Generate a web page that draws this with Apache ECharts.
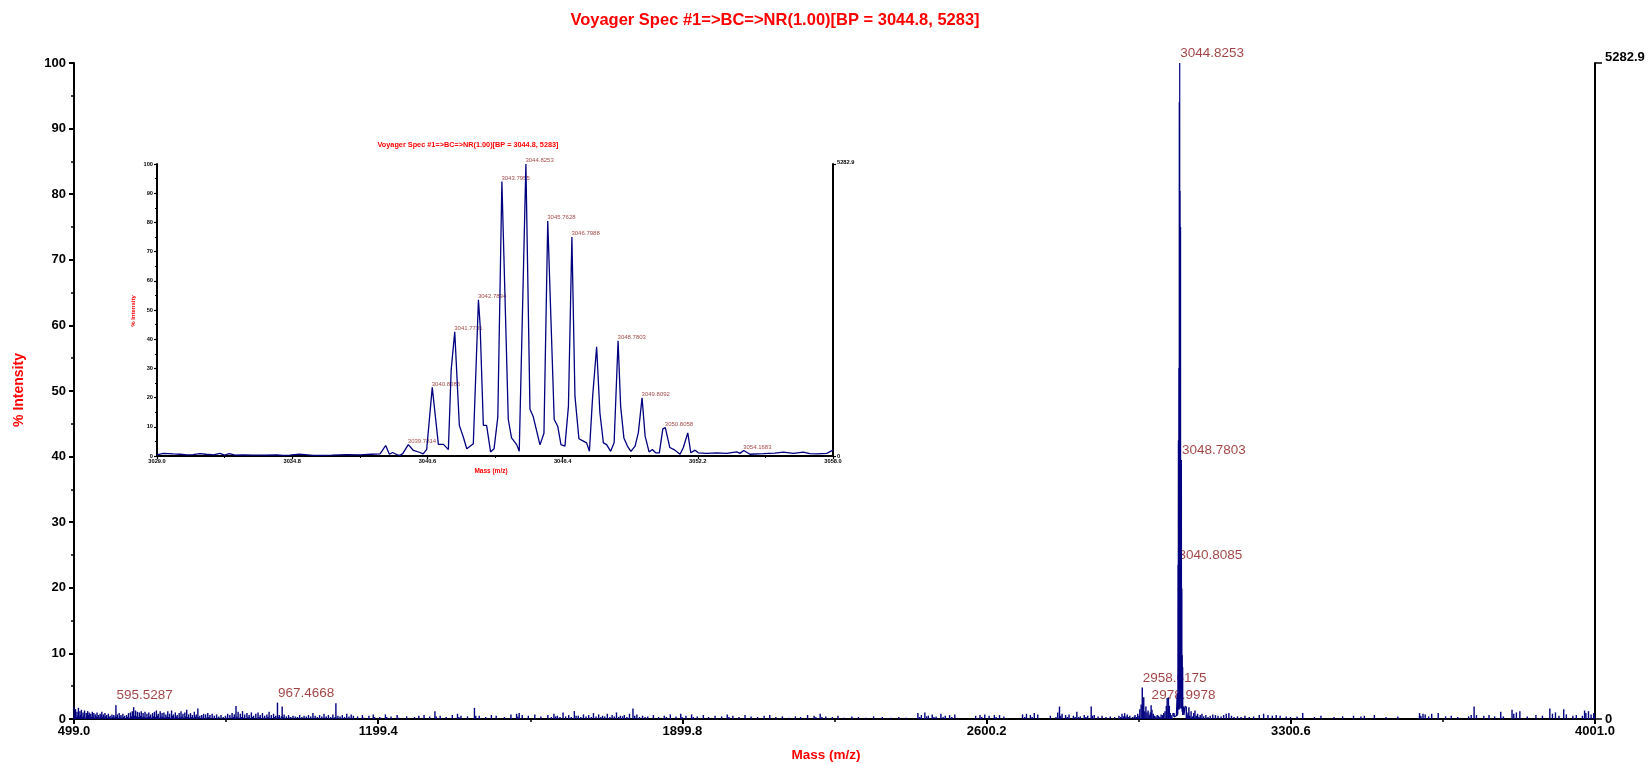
<!DOCTYPE html>
<html>
<head>
<meta charset="utf-8">
<title>Voyager Spec #1</title>
<script src="https://cdn.jsdelivr.net/npm/echarts@6.0.0/dist/echarts.min.js"></script>
<style>
html,body{margin:0;padding:0;background:#fff}
#chart{width:1650px;height:764px}
</style>
</head>
<body>
<div id="chart"></div>
<script>
// ---- spectrum data -------------------------------------------------------
const titleText = 'Voyager Spec #1=>BC=>NR(1.00)[BP = 3044.8, 5283]';
const yAxisTitle = '% Intensity';
const xAxisTitle = 'Mass (m/z)';
const basePeakCounts = 5282.9;

const mainXTicks = [499.0, 1199.4, 1899.8, 2600.2, 3300.6, 4001.0];
const mainXMinorTicks = [849.2, 1549.6, 2250.0, 2950.4, 3650.8];
const insetXTicks = [3029.0, 3034.8, 3040.6, 3046.4, 3052.2, 3058.0];
const insetXMinorTicks = [3031.9, 3037.7, 3043.5, 3049.3, 3055.1];

// centroided noise sticks [m/z, % intensity], low mass region
const sticksLow = [
  [499.0,1.9],[500.8,0.6],[502.5,1.5],[504.1,0.3],[505.9,1.1],[507.6,0.5],[509.2,1.7],[511.0,0.4],[512.7,1.2],[514.5,0.6],
  [516.0,1.4],[518.1,0.3],[519.8,1.0],[521.6,0.5],[523.3,1.3],[525.0,0.2],[527.1,0.9],[528.8,0.4],[530.4,1.2],[532.3,0.6],
  [534.0,1.0],[535.9,0.2],[537.6,0.8],[539.5,0.3],[541.2,1.1],[543.0,0.5],[544.8,0.9],[546.5,0.2],[548.3,0.7],[550.1,0.4],
  [552.0,1.0],[553.7,0.3],[555.6,0.6],[557.4,0.2],[559.2,0.8],[561.0,0.5],[563.0,1.1],[564.7,0.3],[566.5,0.7],[568.4,0.2],
  [570.2,0.9],[572.0,0.4],[574.1,0.6],[576.0,0.2],[578.0,0.8],[580.1,0.3],[582.3,0.5],[584.2,0.1],[586.4,0.7],[588.5,0.3],
  [590.6,0.6],[592.7,0.2],[594.3,0.4],[595.5287,2.1],[596.8,0.3],[598.7,0.7],[600.9,0.2],[603.0,0.9],[605.1,0.4],[607.2,0.6],
  [609.3,0.2],[611.5,0.8],[613.6,0.3],[615.8,0.5],[618.0,0.1],[620.2,0.6],[622.4,0.3],[624.5,0.9],[626.7,0.2],[628.9,1.0],
  [631.0,0.4],[633.2,1.2],[635.0,0.3],[636.4,1.8],[638.6,0.5],[640.7,1.3],[642.9,0.4],[645.0,1.1],[647.2,0.3],[649.4,1.0],
  [651.6,0.5],[653.8,1.2],[656.0,0.3],[658.1,0.9],[660.3,0.4],[662.5,1.1],[664.7,0.2],[666.9,0.8],[669.0,0.3],[671.2,1.0],
  [673.4,0.4],[675.6,0.7],[677.8,0.2],[680.0,0.9],[682.2,0.4],[684.3,1.1],[686.5,0.3],[688.7,1.3],[690.9,0.5],[693.0,0.8],
  [695.2,0.2],[697.4,1.2],[699.6,0.4],[701.8,0.9],[704.0,0.3],[706.1,1.0],[708.3,0.2],[710.5,0.7],[712.7,0.4],[714.9,1.2],
  [717.0,0.3],[719.2,0.8],[721.4,0.2],[723.6,1.3],[725.8,0.5],[728.0,0.7],[730.1,0.2],[732.3,1.0],[734.5,0.4],[736.7,0.6],
  [738.9,0.1],[741.1,0.9],[743.2,0.3],[745.4,1.2],[747.6,0.4],[749.8,0.8],[752.0,0.2],[754.2,1.0],[756.3,0.4],[758.5,1.4],
  [760.7,0.3],[762.9,0.7],[765.1,0.2],[767.3,0.9],[769.4,0.3],[771.6,0.6],[773.8,0.2],[776.0,1.1],[778.2,0.4],[780.4,0.7],
  [782.5,0.2],[784.2,1.6],[786.5,0.3],[788.7,0.5],[790.9,0.1],[793.1,0.6],[795.3,0.2],[797.4,0.8],[799.6,0.1],
  [802.0,0.7],[804.5,0.2],[807.0,0.9],[809.5,0.3],[812.0,0.6],[814.6,0.1],[817.1,0.8],[819.7,0.2],[822.2,0.5],[824.8,0.1],
  [827.3,0.7],[829.9,0.2],[832.4,0.4],[837.5,0.6],[840.1,0.1],[842.6,0.3],[847.7,0.5],[850.3,0.2],[852.8,0.8],[855.4,0.1],
  [857.9,0.6],[860.5,0.2],[863.0,0.9],[865.6,0.3],[868.1,0.7],[870.4,0.2],[872.0,2.0],[874.2,0.4],[876.8,1.1],[879.3,0.2],
  [881.9,0.8],[884.4,0.3],[887.0,1.2],[889.5,0.2],[892.1,0.7],[894.6,0.1],[897.2,0.9],[899.7,0.3],[902.3,0.6],[904.8,0.1],
  [907.4,1.0],[909.9,0.3],[912.5,0.5],[917.6,0.8],[920.1,0.2],[922.7,1.0],[925.2,0.3],[927.8,0.6],[930.3,0.1],[932.9,0.9],
  [935.4,0.2],[938.0,0.5],[940.5,0.1],[943.1,0.7],[945.6,0.3],[948.2,1.1],[950.7,0.2],[953.3,0.6],[955.8,0.1],[958.4,0.8],
  [960.9,0.3],[963.5,0.5],[965.9,0.2],[967.4668,2.5],[969.0,0.3],[971.6,0.6],[974.1,0.1],[976.4,0.4],[978.3,1.9],[980.2,0.3],
  [982.8,0.7],[985.3,0.1],[987.9,0.4],[993.0,0.6],[995.5,0.2],[998.1,0.3],[1003.2,0.5],[1005.7,0.1],[1008.3,0.4],[1013.4,0.3],
  [1018.5,0.6],[1021.0,0.1],[1023.6,0.3],[1028.7,0.5],[1031.2,0.1],[1033.8,0.4],[1038.9,0.6],[1041.4,0.1],[1044.0,0.4],[1049.1,0.9],
  [1051.6,0.2],[1054.2,0.5],[1059.3,0.3],[1064.4,0.6],[1066.9,0.1],[1069.5,0.4],[1074.6,0.8],[1077.1,0.2],[1079.7,0.4],[1084.8,0.6],
  [1087.3,0.1],[1089.9,0.3],[1095.0,0.7],[1097.5,0.1],[1100.1,0.3],[1102.0,2.4],[1104.0,0.2],[1106.6,0.5],[1111.7,0.4],[1114.2,0.1],
  [1116.8,0.6],[1121.9,0.3],[1127.0,0.8],[1129.5,0.1],[1132.1,0.4],[1137.2,0.7],[1139.7,0.2],[1142.3,0.5]
];

// noise sticks, mid mass region up to the isotope cluster
const sticksMid = [
  [1152,0.4],[1163,0.6],[1166,0.2],[1178,0.5],[1188,0.7],[1191,0.3],[1203,0.3],[1216,0.7],[1219,0.3],[1229,0.4],
  [1243,0.6],[1246,0.2],[1265,0.4],[1283,0.3],[1293,0.5],[1305,0.6],[1318,0.4],[1330,1.2],[1333,0.4],[1342,0.5],
  [1356,0.3],[1370,0.6],[1382,0.8],[1385,0.3],[1390,0.5],[1405,0.4],[1421,1.7],[1424,0.5],[1432,0.5],[1447,0.3],
  [1460,0.6],[1471,0.5],[1490,0.3],[1505,0.7],[1518,0.8],[1521,0.4],[1524,0.9],[1531,0.6],[1545,0.5],[1560,0.7],
  [1574,0.4],[1590,0.6],[1598,0.3],[1604,0.8],[1608,0.4],[1612,0.5],[1618,0.3],[1625,1.0],[1631,0.4],[1638,0.6],
  [1644,0.3],[1651,1.2],[1655,0.5],[1660,0.5],[1666,0.3],[1672,0.7],[1678,0.4],[1684,0.6],[1690,0.3],[1695,0.9],
  [1701,0.4],[1707,0.7],[1712,0.3],[1716,0.5],[1721,0.4],[1727,0.8],[1733,0.3],[1738,0.6],[1743,0.4],[1748,1.0],
  [1753,0.3],[1757,0.5],[1762,0.4],[1766,0.6],[1772,0.3],[1778,0.8],[1786,1.6],[1790,0.5],[1795,0.7],[1801,0.3],
  [1808,0.5],[1814,0.3],[1820,0.4],[1833,0.6],[1845,0.3],[1858,0.5],[1863,0.3],[1872,0.7],[1885,0.4],[1896,0.8],
  [1899,0.3],[1908,0.5],[1921,0.7],[1925,0.3],[1934,0.4],[1948,0.6],[1960,0.3],[1975,0.5],[1990,0.4],[2003,0.7],
  [2007,0.3],[2016,0.5],[2030,0.3],[2044,0.6],[2058,0.4],[2073,0.3],[2088,0.5],[2101,0.6],[2115,0.3],[2130,0.4],
  [2145,0.2],[2160,0.4],[2172,0.3],[2188,0.6],[2203,0.5],[2207,0.3],[2217,0.8],[2221,0.3],[2230,0.4],[2245,0.3],
  [2258,0.5],[2272,0.2],[2290,0.4],[2305,0.3],[2322,0.2],[2340,0.4],[2360,0.3],[2380,0.2],[2398,0.3],[2415,0.2],
  [2442,0.9],[2446,0.3],[2450,0.6],[2458,1.0],[2462,0.4],[2466,0.5],[2475,0.7],[2479,0.3],[2484,0.4],[2495,0.8],
  [2500,0.3],[2505,0.5],[2515,0.6],[2520,0.3],[2527,0.7],[2575,0.5],[2585,0.6],[2589,0.3],[2596,0.7],[2606,0.5],
  [2618,0.6],[2622,0.3],[2630,0.6],[2640,0.4],[2683,0.7],[2688,0.3],[2692,0.8],[2701,0.6],[2705,0.3],[2710,0.9],
  [2718,0.7],[2747,0.5],[2760,0.3],[2764,1.0],[2768,1.9],[2771,0.5],[2774,0.8],[2782,0.6],[2786,0.3],[2790,0.7],
  [2800,0.5],[2804,0.3],[2808,1.1],[2812,0.3],[2816,0.4],[2825,0.6],[2829,0.3],[2833,0.5],[2841,1.9],[2844,0.5],
  [2848,0.6],[2857,0.4],[2866,0.5],[2875,0.3],[2885,0.4],[2895,0.3],[2905,0.5],[2909,0.3],[2912,0.8],[2915,0.4],
  [2918,0.9],[2921,0.4],[2924,0.7],[2927,0.3],[2930,0.5],[2936,0.3],[2940,0.4],[2942,0.6],[2945,0.3],[2948,0.8],
  [2951,0.5],[2953,1.5],[2956,2.2],[2958.6175,4.8],[2960,2.0],[2962,3.3],[2964.5,1.2],[2967,1.9],[2969.5,1.0],[2972,1.3],
  [2974.5,0.6],[2977,1.0],[2978.9978,2.1],[2981,1.4],[2984,0.8],[2987,0.5],[2990,0.4],[2993,0.6],[2996,0.5],[2999,0.3],
  [3002,0.7],[3005,0.6],[3008,0.9],[3011,1.2],[3014,2.0],[3016,3.2],[3018.9,3.3],[3021,2.0],[3023,0.9],[3025,0.6],
  [3027,0.4]
];

// noise sticks above the isotope cluster
const sticksHigh = [
  [3060,1.9],[3062,0.6],[3064,1.0],[3066,1.8],[3068,0.5],[3071,1.2],[3074,0.4],[3077,0.9],[3080,1.3],[3083,0.5],
  [3086,0.8],[3089,0.3],[3092,0.6],[3096,0.8],[3100,0.4],[3105,0.6],[3110,0.3],[3115,0.5],[3121,0.7],[3127,0.6],
  [3133,0.5],[3140,0.4],[3146,0.6],[3152,0.8],[3158,0.9],[3164,0.5],[3170,0.3],[3178,0.4],[3186,0.3],[3195,0.5],
  [3205,0.3],[3215,0.4],[3228,0.6],[3238,0.8],[3248,0.6],[3258,0.5],[3267,0.6],[3276,0.5],[3290,0.4],[3300,0.3],
  [3315,0.4],[3328,0.9],[3355,0.3],[3370,0.5],[3400,0.3],[3420,0.4],[3445,0.5],[3462,0.4],[3470,0.5],[3493,0.6],
  [3520,0.3],[3547,0.4],[3597,0.9],[3600,0.5],[3605,0.8],[3610,0.7],[3618,0.4],[3625,0.8],[3640,0.9],[3657,0.4],
  [3670,0.5],[3685,0.3],[3710,0.4],[3716,0.6],[3722.6,1.9],[3728,0.6],[3745,0.5],[3757,0.6],[3770,0.4],[3784,1.1],
  [3790,0.4],[3810,1.4],[3814,0.8],[3820,1.0],[3828,1.2],[3845,0.4],[3865,0.6],[3880,0.5],[3897,1.6],[3903,0.8],
  [3910,1.0],[3918,0.5],[3929,1.5],[3935,0.7],[3950,0.5],[3958,0.6],[3972,0.5],[3977,1.3],[3980,0.9],[3986,1.2],
  [3992,0.7],[3998,0.9],[4000,0.5]
];

// profile of the isotope cluster [m/z, % intensity]
const isotopeProfile = [
  [3029.0,0.4],[3029.27,0.9],[3029.70,0.7],[3030.0,0.6],[3030.27,0.4],[3030.55,0.5],[3030.84,0.8],[3031.1,0.6],[3031.42,0.4],[3031.70,0.9],
  [3031.9,0.3],[3032.1,0.8],[3032.35,0.3],[3032.7,0.4],[3033.13,0.3],[3033.6,0.3],[3034.13,0.4],[3034.4,0.2],[3034.7,0.3],[3035.1,0.6],
  [3035.35,0.5],[3035.7,0.2],[3035.99,0.2],[3036.5,0.3],[3037.14,0.5],[3037.71,0.4],[3038.2,0.6],[3038.57,0.7],[3038.81,3.6],[3038.97,0.6],
  [3039.11,1.2],[3039.28,0.5],[3039.42,0.2],[3039.54,0.8],[3039.7814,3.9],[3040.0,1.9],[3040.28,1.2],[3040.42,0.7],[3040.57,2.3],[3040.8085,23.5],
  [3041.07,4.0],[3041.29,4.0],[3041.50,2.2],[3041.62,29.5],[3041.7731,42.5],[3041.97,10.5],[3042.14,6.5],[3042.29,2.5],[3042.57,4.2],[3042.7894,53.5],
  [3042.86,45.0],[3043.0,10.5],[3043.14,10.5],[3043.31,1.4],[3043.46,2.5],[3043.62,13.3],[3043.7955,94.0],[3044.07,12.5],[3044.21,6.2],[3044.43,3.9],
  [3044.54,1.6],[3044.8253,100.0],[3045.0,16.0],[3045.14,13.5],[3045.31,7.8],[3045.43,3.8],[3045.60,7.8],[3045.7628,80.5],[3046.04,12.5],[3046.19,10.2],
  [3046.33,3.9],[3046.50,3.4],[3046.65,17.0],[3046.7988,75.0],[3046.93,20.5],[3047.10,5.9],[3047.29,5.1],[3047.43,4.5],[3047.55,1.6],[3047.69,20.5],
  [3047.86,37.4],[3048.0,14.8],[3048.15,4.5],[3048.29,3.9],[3048.46,1.6],[3048.61,4.5],[3048.7803,39.5],[3048.89,17.0],[3049.03,6.2],[3049.18,3.4],
  [3049.33,1.6],[3049.51,3.4],[3049.65,8.0],[3049.8092,19.9],[3049.94,6.8],[3050.11,1.4],[3050.25,2.2],[3050.39,1.1],[3050.55,1.1],[3050.70,9.3],
  [3050.8058,9.7],[3051.0,2.9],[3051.18,2.2],[3051.44,0.6],[3051.58,2.9],[3051.77,7.9],[3051.90,1.1],[3052.08,2.0],[3052.22,1.1],[3052.58,0.9],
  [3053.01,1.1],[3053.44,0.9],[3053.87,1.4],[3054.01,0.9],[3054.1683,1.9],[3054.44,0.6],[3055.01,0.8],[3055.5,1.0],[3055.87,1.3],[3056.3,0.9],
  [3056.73,1.3],[3057.0,0.8],[3057.30,0.7],[3057.73,0.9],[3058.0,2.0]
];

// annotated peaks (m/z)
const mainLabelMz = [595.5287, 967.4668, 2958.6175, 2978.9978, 3040.8085, 3048.7803, 3044.8253];
const insetLabelMz = [3039.7814, 3040.8085, 3041.7731, 3042.7894, 3043.7955, 3044.8253,
                      3045.7628, 3046.7988, 3048.7803, 3049.8092, 3050.8058, 3054.1683];

// ---- chart ---------------------------------------------------------------
const FONT = '"Liberation Sans", Arial, Helvetica, sans-serif';
const NAVY = '#000080';
const PEAK_RED = '#8a1414';
const TITLE_RED = '#ff0000';

const noiseSticks = sticksLow.concat(sticksMid, sticksHigh);
const allPoints = noiseSticks.concat(isotopeProfile);
function pointAt(mz) {
  return allPoints.find(p => Math.abs(p[0] - mz) < 1e-6);
}
const mainLabels = mainLabelMz.map(pointAt);
const insetLabels = insetLabelMz.map(pointAt);

function axisLine(w) { return { show: true, onZero: false, lineStyle: { color: '#000', width: w } }; }

const chart = echarts.init(document.getElementById('chart'), null, { renderer: 'canvas' });
chart.setOption({
  animation: false,
  backgroundColor: '#fff',
  textStyle: { fontFamily: FONT },
  grid: [
    { left: 74, top: 63, width: 1521, height: 656, containLabel: false, outerBoundsMode: 'none' },
    { left: 157, top: 164, width: 676, height: 292, containLabel: false, outerBoundsMode: 'none' }
  ],
  xAxis: [
    { type: 'value', gridIndex: 0, min: 499, max: 4001, position: 'bottom',
      axisLine: axisLine(2), splitLine: { show: false },
      axisTick: { show: true, customValues: mainXTicks, length: 5, lineStyle: { color: '#000', width: 2 } },
      axisLabel: { customValues: mainXTicks, formatter: v => v.toFixed(1), color: '#000', fontWeight: 'bold', fontSize: 13, margin: 6, fontFamily: FONT } },
    { type: 'value', gridIndex: 0, min: 499, max: 4001, position: 'bottom',
      axisLine: { show: false }, splitLine: { show: false }, axisLabel: { show: false },
      axisTick: { show: true, customValues: mainXMinorTicks, length: 3, lineStyle: { color: '#000', width: 1.5 } } },
    { type: 'value', gridIndex: 1, min: 3029, max: 3058, position: 'bottom',
      axisLine: axisLine(2), splitLine: { show: false },
      axisTick: { show: true, customValues: insetXTicks, length: 3, lineStyle: { color: '#000', width: 1.2 } },
      axisLabel: { customValues: insetXTicks, formatter: v => v.toFixed(1), color: '#000', fontWeight: 'bold', fontSize: 5.7, margin: 2, fontFamily: FONT } },
    { type: 'value', gridIndex: 1, min: 3029, max: 3058, position: 'bottom',
      axisLine: { show: false }, splitLine: { show: false }, axisLabel: { show: false },
      axisTick: { show: true, customValues: insetXMinorTicks, length: 2, lineStyle: { color: '#000', width: 1 } } }
  ],
  yAxis: [
    { type: 'value', gridIndex: 0, min: 0, max: 100, interval: 10, position: 'left',
      axisLine: axisLine(2), splitLine: { show: false }, minorSplitLine: { show: false },
      axisTick: { show: true, length: 5, lineStyle: { color: '#000', width: 2 } },
      minorTick: { show: true, splitNumber: 2, length: 3, lineStyle: { color: '#000', width: 1.5 } },
      axisLabel: { color: '#000', fontWeight: 'bold', fontSize: 13, margin: 8, fontFamily: FONT } },
    { type: 'value', gridIndex: 0, min: 0, max: basePeakCounts, interval: basePeakCounts, position: 'right',
      axisLine: axisLine(2), splitLine: { show: false },
      axisTick: { show: true, length: 7, lineStyle: { color: '#000', width: 1.5 } },
      axisLabel: { margin: 10, color: '#000', fontWeight: 'bold', fontSize: 13, fontFamily: FONT,
        formatter: v => v > 0 ? '{t|' + v.toFixed(1) + '}' : '{b|0}',
        rich: {
          t: { fontWeight: 'bold', fontSize: 13, color: '#000', fontFamily: FONT, padding: [0, 0, 12, 0] },
          b: { fontWeight: 'bold', fontSize: 13, color: '#000', fontFamily: FONT }
        } } },
    { type: 'value', gridIndex: 1, min: 0, max: 100, interval: 10, position: 'left',
      axisLine: axisLine(2), splitLine: { show: false }, minorSplitLine: { show: false },
      axisTick: { show: true, length: 3, lineStyle: { color: '#000', width: 1.2 } },
      minorTick: { show: true, splitNumber: 2, length: 2, lineStyle: { color: '#000', width: 1 } },
      axisLabel: { color: '#000', fontWeight: 'bold', fontSize: 5.7, margin: 4, fontFamily: FONT } },
    { type: 'value', gridIndex: 1, min: 0, max: basePeakCounts, interval: basePeakCounts, position: 'right',
      axisLine: axisLine(2), splitLine: { show: false },
      axisTick: { show: true, length: 3, lineStyle: { color: '#000', width: 1.2 } },
      axisLabel: { margin: 4, color: '#000', fontWeight: 'bold', fontSize: 5.7, fontFamily: FONT,
        formatter: v => v > 0 ? '{t|' + v.toFixed(1) + '}' : '{b|0}',
        rich: {
          t: { fontWeight: 'bold', fontSize: 5.7, color: '#000', fontFamily: FONT, padding: [0, 0, 3, 0] },
          b: { fontWeight: 'bold', fontSize: 5.7, color: '#000', fontFamily: FONT }
        } } }
  ],
  series: [
    { name: 'noise', type: 'bar', xAxisIndex: 0, yAxisIndex: 0, data: noiseSticks,
      barWidth: 1.4, itemStyle: { color: NAVY }, silent: true },
    { name: 'cluster', type: 'line', xAxisIndex: 0, yAxisIndex: 0, data: isotopeProfile,
      symbol: 'none', lineStyle: { color: NAVY, width: 1.2 }, silent: true },
    { name: 'main labels', type: 'scatter', xAxisIndex: 0, yAxisIndex: 0, data: mainLabels,
      symbolSize: 1, itemStyle: { color: 'rgba(0,0,0,0)' }, silent: true,
      label: { show: true, position: [1, -2], align: 'left', verticalAlign: 'bottom',
        formatter: p => p.value[0].toFixed(4), color: PEAK_RED, fontSize: 13.5, fontFamily: FONT } },
    { name: 'inset profile', type: 'line', xAxisIndex: 2, yAxisIndex: 2, data: isotopeProfile,
      symbol: 'none', lineStyle: { color: NAVY, width: 1.3 }, silent: true },
    { name: 'inset labels', type: 'scatter', xAxisIndex: 2, yAxisIndex: 2, data: insetLabels,
      symbolSize: 1, itemStyle: { color: 'rgba(0,0,0,0)' }, silent: true,
      label: { show: true, position: [0, 0], align: 'left', verticalAlign: 'bottom',
        formatter: p => p.value[0].toFixed(4), color: PEAK_RED, fontSize: 6, fontFamily: FONT } }
  ],
  graphic: [
    { type: 'text', x: 775, y: 20, style: { text: titleText, fill: TITLE_RED, font: 'bold 16.5px ' + FONT, textAlign: 'center', textVerticalAlign: 'middle' } },
    { type: 'text', x: 19, y: 390, rotation: Math.PI / 2, style: { text: yAxisTitle, fill: TITLE_RED, font: 'bold 14px ' + FONT, textAlign: 'center', textVerticalAlign: 'middle' } },
    { type: 'text', x: 826, y: 755, style: { text: xAxisTitle, fill: TITLE_RED, font: 'bold 13.5px ' + FONT, textAlign: 'center', textVerticalAlign: 'middle' } },
    { type: 'text', x: 468, y: 145, style: { text: titleText, fill: TITLE_RED, font: 'bold 7.3px ' + FONT, textAlign: 'center', textVerticalAlign: 'middle' } },
    { type: 'text', x: 133, y: 311, rotation: Math.PI / 2, style: { text: yAxisTitle, fill: TITLE_RED, font: 'bold 6px ' + FONT, textAlign: 'center', textVerticalAlign: 'middle' } },
    { type: 'text', x: 491, y: 471, style: { text: xAxisTitle, fill: TITLE_RED, font: 'bold 6.5px ' + FONT, textAlign: 'center', textVerticalAlign: 'middle' } }
  ]
});
</script>
</body>
</html>
